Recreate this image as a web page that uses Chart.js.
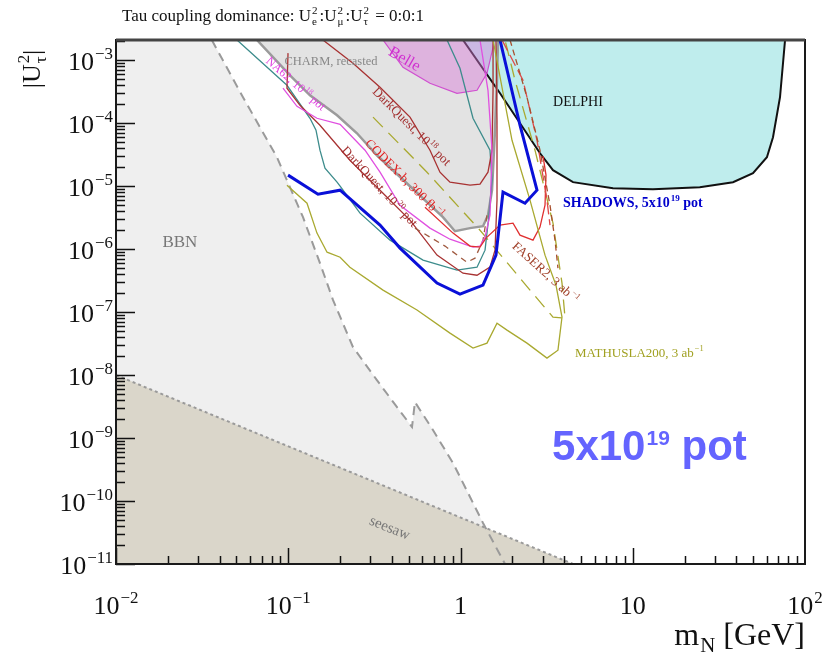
<!DOCTYPE html>
<html>
<head>
<meta charset="utf-8">
<script src="https://cdn.jsdelivr.net/npm/chart.js@4.4.1/dist/chart.umd.min.js"></script>
<style>
  html, body { margin: 0; padding: 0; background: #fff; }
  #wrap { width: 826px; height: 658px; }
</style>
</head>
<body>
<div id="wrap"><canvas id="myChart" width="826" height="658"></canvas></div>
<script>
// axis ranges: m_N in GeV, |U_tau|^2
var xRange = [0.01, 100];
var yRange = [1e-11, 2.1e-3];
var xTicks = [0.01, 0.1, 1, 10, 100];
var xTickLabels = [["10", "\u22122"], ["10", "\u22121"], ["1", ""], ["10", ""], ["10", "2"]];
var yTicks = [1e-3, 1e-4, 1e-5, 1e-6, 1e-7, 1e-8, 1e-9, 1e-10, 1e-11];
var yTickLabels = [["10", "\u22123"], ["10", "\u22124"], ["10", "\u22125"], ["10", "\u22126"], ["10", "\u22127"],
  ["10", "\u22128"], ["10", "\u22129"], ["10", "\u221210"], ["10", "\u221211"]];

// curves, [mass, coupling]
var bbnEdge = [[0.036, 2.1e-3], [0.0546, 2.59e-4], [0.086, 2.89e-5], [0.1218, 3.22e-6], [0.1528, 6.0e-7],
  [0.182, 1.55e-7], [0.2377, 2.78e-8], [0.327, 8.34e-9], [0.428, 3.1e-9], [0.523, 1.5e-9], [0.544, 3.73e-9],
  [0.692, 1.34e-9], [0.905, 4.01e-10], [1.136, 1.16e-10], [1.351, 4.48e-11], [1.813, 1e-11]];
var bbnCorners = [[0.01, 1e-11], [0.01, 2.1e-3]];
var seesaw = [[0.01, 1.0e-8], [4.5, 1e-11]];
var charm = [[0.0658, 2.1e-3], [0.1024, 5.78e-4], [0.1337, 2.78e-4], [0.192, 1.34e-4], [0.2506, 6.93e-5],
  [0.327, 3.1e-5], [0.509, 1.0e-5], [0.791, 3.22e-6], [0.929, 1.93e-6], [1.136, 2.16e-6], [1.351, 2.32e-6],
  [1.444, 3.47e-6], [1.524, 8.65e-6], [1.586, 7.75e-5], [1.629, 4.82e-4], [1.651, 2.1e-3]];
var belle = [[0.355, 2.1e-3], [0.4635, 7.74e-4], [0.665, 4.31e-4], [0.954, 2.99e-4], [1.247, 3.34e-4],
  [1.425, 6.22e-4], [1.545, 1.61e-3], [1.565, 2.1e-3]];
var delphi = [[1.034, 2.1e-3], [1.696, 2.99e-4], [2.894, 3.34e-5], [3.443, 1.8e-5], [4.5, 1.16e-5],
  [7.68, 9.29e-6], [13.1, 8.96e-6], [24.5, 9.64e-6], [38.2, 1.16e-5], [49.9, 1.61e-5], [60.1, 2.89e-5],
  [65.2, 6.0e-5], [71.6, 2.59e-4], [76.6, 2.1e-3]];
var teal = [[0.0504, 2.1e-3], [0.0983, 4.01e-4], [0.1337, 1.2e-4], [0.1449, 7.75e-5], [0.1528, 3.73e-5],
  [0.1634, 1.93e-5], [0.192, 1.16e-5], [0.2, 1.0e-5], [0.261, 3.73e-6], [0.39, 1.39e-6], [0.606, 6.69e-7],
  [0.954, 4.64e-7], [1.247, 5.18e-7], [1.388, 9.64e-7], [1.464, 3.47e-6], [1.524, 1.25e-5], [1.483, 3.73e-5],
  [1.182, 1.2e-4], [0.993, 7.46e-4], [0.835, 2.1e-3]];
var na62 = [[0.0932, 3.6e-4], [0.1124, 1.86e-4], [0.1468, 1.2e-4], [0.2, 9.64e-5], [0.279, 3.73e-5],
  [0.341, 1.67e-5], [0.4455, 4.99e-6], [0.665, 2.16e-6], [0.869, 1.44e-6], [1.182, 1.08e-6], [1.298, 1.12e-6],
  [1.388, 1.55e-6], [1.483, 3.47e-6], [1.524, 3.73e-5], [1.444, 3.34e-4], [1.298, 2.1e-3]];
var darkQuest18 = [[0.159, 2.1e-3], [0.2377, 8.96e-4], [0.341, 3.73e-4], [0.509, 1.25e-4], [0.665, 3.73e-5],
  [0.76, 1.67e-5], [0.869, 1.16e-5], [1.136, 1.04e-5], [1.298, 1.08e-5], [1.444, 1.67e-5], [1.524, 3.73e-5],
  [1.545, 3.34e-4], [1.545, 2.1e-3]];
var darkQuest20 = [[0.0997, 1.3e-3], [0.0983, 3.6e-4], [0.117, 1.93e-4], [0.1528, 9.3e-5], [0.228, 2.59e-5],
  [0.341, 8.65e-6], [0.509, 2.89e-6], [0.7305, 8.04e-7], [1.034, 4.16e-7], [1.247, 3.86e-7], [1.483, 5.18e-7],
  [1.586, 9.64e-7], [1.629, 6.0e-6], [1.629, 1.12e-4], [1.607, 2.1e-3]];
var darkQuest20b = [[0.544, 2.16e-6], [0.813, 1.12e-6], [1.09, 6.22e-7], [1.214, 7.2e-7], [1.351, 1.39e-6],
  [1.425, 3.47e-6]];
var codexB = [[0.622, 4.64e-6], [0.905, 1.8e-6], [1.136, 1.12e-6], [1.298, 1.08e-6], [1.406, 1.5e-6],
  [1.696, 2.41e-6], [2.018, 2.59e-6], [2.215, 1.67e-6], [2.636, 1.39e-6], [2.894, 2.24e-6], [3.095, 4.99e-6],
  [3.136, 1.5e-5], [3.013, 3.0e-5]];
var faserRed = [[1.742, 2.1e-3], [2.306, 4.82e-4], [2.78, 5.37e-5], [3.177, 6.0e-6], [3.308, 2.41e-6]];
var faser2 = [[1.939, 2.1e-3], [2.432, 2.59e-4], [2.894, 3.73e-5], [3.308, 4.99e-6], [3.537, 1.39e-6],
  [3.68, 4.99e-7]];
var mathusla = [[0.0983, 1.04e-5], [0.1285, 5.37e-6], [0.1468, 1.8e-6], [0.168, 8.96e-7], [0.2, 7.46e-7],
  [0.228, 5.18e-7], [0.355, 2.24e-7], [0.559, 1.08e-7], [0.869, 4.64e-8], [1.182, 2.68e-8], [1.425, 3.22e-8],
  [1.629, 6.69e-8], [1.862, 5.18e-8], [2.432, 3.22e-8], [3.177, 1.86e-8], [3.68, 2.49e-8], [3.884, 8.34e-8],
  [3.584, 2.68e-7], [3.095, 8.04e-7], [2.532, 6.0e-6], [1.991, 5.37e-5], [1.545, 2.1e-3]];
var mathuslaB = [[0.3105, 1.25e-4], [0.639, 1.67e-5], [1.298, 2.0e-6], [2.532, 2.24e-7], [3.443, 8.34e-8],
  [4.045, 8.04e-8], [3.884, 2.89e-7], [3.443, 2.59e-6], [2.707, 3.73e-5], [2.072, 4.82e-4], [1.813, 2.1e-3]];
var shadows = [[0.0997, 1.5e-5], [0.1488, 7.46e-6], [0.2, 8.65e-6], [0.341, 2.41e-6], [0.4455, 1.04e-6],
  [0.7305, 2.89e-7], [0.993, 1.93e-7], [1.351, 2.68e-7], [1.607, 8.04e-7], [1.765, 8.04e-6], [2.368, 5.37e-6],
  [2.78, 8.65e-6], [2.215, 9.3e-5], [1.696, 2.1e-3]];

// text placed in the plot, anchored at [mass, coupling]
var notes = [
  { segs: [["BBN"]], x: 0.0235, y: 1.34e-6, size: 17, color: "#777", angle: 0, align: "center" },
  { segs: [["CHARM, recasted"]], x: 0.177, y: 1e-3, size: 12.5, color: "#888", angle: 0, align: "center" },
  { segs: [["NA62, 10", "18"], [" pot"]], x: 0.111, y: 4.31e-4, size: 12, color: "#e040e0", angle: 41, align: "center" },
  { segs: [["Belle"]], x: 0.476, y: 1.08e-3, size: 16, color: "#d030d0", angle: 30, align: "center" },
  { segs: [["DarkQuest, 10", "18"], [" pot"]], x: 0.523, y: 9.0e-5, size: 13, color: "#a33030", angle: 45, align: "center" },
  { segs: [["CODEX-b, 300 fb", "\u22121"]], x: 0.476, y: 1.34e-5, size: 13, color: "#e02020", angle: 45, align: "center" },
  { segs: [["DarkQuest, 10", "20"], [" pot"]], x: 0.341, y: 1.0e-5, size: 13, color: "#a33030", angle: 47, align: "center" },
  { segs: [["DELPHI"]], x: 4.81, y: 2.24e-4, size: 14, color: "#111", angle: 0, align: "center" },
  { segs: [["SHADOWS, 5x10", "19"], [" pot"]], x: 3.94, y: 5.57e-6, size: 14, weight: "bold", color: "#0000cc", angle: 0, align: "left" },
  { segs: [["FASER2, 3 ab", "\u22121"]], x: 3.136, y: 4.31e-7, size: 13, color: "#a0402a", angle: 42, align: "center" },
  { segs: [["MATHUSLA200, 3 ab", "\u22121"]], x: 4.62, y: 2.32e-8, size: 13, color: "#a0a020", angle: 0, align: "left" },
  { segs: [["seesaw"]], x: 0.39, y: 3.86e-11, size: 15, color: "#777", angle: 22, align: "center" },
  { segs: [["5x10", "19"], [" pot"]], x: 3.4, y: 7.75e-10, size: 42, weight: "bold", family: "'Liberation Sans'",
    color: "#6464ff", angle: 0, align: "left", supScale: 0.5, supRaise: 0.36 }
];

function curve(data, color, width, dash) {
  return {
    data: data,
    borderColor: color,
    borderWidth: width,
    borderDash: dash || [],
    fill: false,
    pointRadius: 0,
    pointHoverRadius: 0,
    tension: 0
  };
}

function region(data, fillColor, lineColor, width, fill) {
  return {
    data: data,
    backgroundColor: fillColor,
    borderColor: lineColor || fillColor,
    borderWidth: width || 0,
    fill: fill || "shape",
    pointRadius: 0,
    pointHoverRadius: 0,
    tension: 0
  };
}

// bottom to top
var datasets = [
  region(bbnEdge.concat(bbnCorners), "#efefef"),
  region(charm, "#e3e3e3"),
  region(delphi, "#bfeded", "#111", 2),
  region(belle, "rgba(214,120,214,0.45)", "#d050d0", 1.2),
  Object.assign(region(seesaw, "#dad6ca", "#9a9a9a", 2, "start"), { borderDash: [3, 3] }),
  curve(bbnEdge, "#9a9a9a", 2, [9, 6]),
  curve(charm, "#9b9b9b", 2.5),
  curve(mathuslaB, "#a9a930", 1.3, [14, 8]),
  curve(teal, "#3d8c8c", 1.3),
  curve(darkQuest18, "#a83232", 1.3),
  curve(darkQuest20, "#a83232", 1.3),
  curve(darkQuest20b, "#a05a40", 1.3, [6, 5]),
  curve(na62, "#e050e0", 1.3),
  curve(codexB, "#e03030", 1.3),
  curve(faserRed, "#e04848", 1.3, [12, 5]),
  curve(faser2, "#a8502e", 1.3, [6, 4]),
  curve(mathusla, "#a9a930", 1.3),
  curve(shadows, "#0a10d8", 3)
];
datasets.forEach(function(d, i) {
  d.order = datasets.length - i;
});

function richWidth(ctx, segs, o) {
  var fam = o.family || "'Liberation Serif'";
  var wt = o.weight || "normal";
  var small = o.size * (o.supScale || 0.65);
  var w = 0;
  segs.forEach(function(s) {
    ctx.font = wt + " " + o.size + "px " + fam;
    w += ctx.measureText(s[0]).width;
    if (s[1] || s[2]) {
      ctx.font = wt + " " + small + "px " + fam;
      w += Math.max(s[1] ? ctx.measureText(s[1]).width : 0, s[2] ? ctx.measureText(s[2]).width : 0) + 1 + (o.gap || 0);
    }
  });
  return w;
}

function drawRich(ctx, segs, x, y, o) {
  var fam = o.family || "'Liberation Serif'";
  var wt = o.weight || "normal";
  var small = o.size * (o.supScale || 0.65);
  var total = richWidth(ctx, segs, o);
  var cx = x;
  if (o.align === "center") cx = x - total / 2;
  if (o.align === "right") cx = x - total;
  ctx.fillStyle = o.color || "#000";
  ctx.textAlign = "left";
  ctx.textBaseline = "alphabetic";
  segs.forEach(function(s) {
    ctx.font = wt + " " + o.size + "px " + fam;
    ctx.fillText(s[0], cx, y);
    cx += ctx.measureText(s[0]).width;
    if (s[1] || s[2]) {
      ctx.font = wt + " " + small + "px " + fam;
      var w1 = 0, w2 = 0;
      if (s[1]) {
        ctx.fillText(s[1], cx + 1, y - o.size * (o.supRaise || 0.42));
        w1 = ctx.measureText(s[1]).width;
      }
      if (s[2]) {
        ctx.fillText(s[2], cx + 1, y + o.size * 0.22);
        w2 = ctx.measureText(s[2]).width;
      }
      cx += Math.max(w1, w2) + 1 + (o.gap || 0);
    }
  });
}

var framePlugin = {
  id: "frame",
  afterDraw: function(chart) {
    var ctx = chart.ctx;
    var a = chart.chartArea;
    var xs = chart.scales.x;
    var ys = chart.scales.y;
    ctx.save();

    // notes inside the plot
    notes.forEach(function(n) {
      var px = xs.getPixelForValue(n.x);
      var py = ys.getPixelForValue(n.y);
      ctx.save();
      ctx.translate(px, py);
      ctx.rotate(n.angle * Math.PI / 180);
      drawRich(ctx, n.segs, 0, n.size * 0.35, n);
      ctx.restore();
    });

    // ticks inside the frame
    ctx.strokeStyle = "#111";
    ctx.lineWidth = 1.5;
    ctx.beginPath();
    for (var e = -2; e < 2; e++) {
      for (var m = 1; m < 10; m++) {
        var px = Math.round(xs.getPixelForValue(m * Math.pow(10, e))) + 0.5;
        var len = m === 1 ? 16 : 8;
        ctx.moveTo(px, a.bottom);
        ctx.lineTo(px, a.bottom - len);
      }
    }
    for (var e2 = -11; e2 <= -3; e2++) {
      for (var m2 = 1; m2 < 10; m2++) {
        var v = m2 * Math.pow(10, e2);
        if (v > yRange[1]) continue;
        var py = Math.round(ys.getPixelForValue(v)) + 0.5;
        var len2 = m2 === 1 ? 19 : 9;
        ctx.moveTo(a.left, py);
        ctx.lineTo(a.left + len2, py);
      }
    }
    ctx.stroke();

    // frame
    ctx.lineWidth = 2;
    ctx.strokeStyle = "#1a1a1a";
    ctx.strokeRect(a.left, a.top, a.right - a.left, a.bottom - a.top);
    ctx.lineWidth = 3;
    ctx.strokeStyle = "#444";
    ctx.beginPath();
    ctx.moveTo(a.left, a.top);
    ctx.lineTo(a.right, a.top);
    ctx.stroke();

    // tick labels
    xTicks.forEach(function(v, i) {
      drawRich(ctx, [xTickLabels[i]], xs.getPixelForValue(v), 614, { size: 26, align: "center", color: "#111" });
    });
    yTicks.forEach(function(v, i) {
      drawRich(ctx, [yTickLabels[i]], a.left - 3, ys.getPixelForValue(v) + 10, { size: 26, align: "right", color: "#111" });
    });

    // titles
    drawRich(ctx, [["Tau coupling dominance: U", "2", "e"], [":U", "2", "\u03bc"], [":U", "2", "\u03c4"], [" = 0:0:1"]],
      122, 21, { size: 17, color: "#111", gap: 2 });
    drawRich(ctx, [["m", "", "N"], [" [GeV]"]], a.right, 645, { size: 32, align: "right", color: "#111" });
    ctx.save();
    ctx.translate(31, 69);
    ctx.rotate(-Math.PI / 2);
    drawRich(ctx, [["|U", "2", "\u03c4"], ["|"]], 0, 9, { size: 26, align: "center", color: "#111" });
    ctx.restore();

    ctx.restore();
  }
};

var ctx = document.getElementById("myChart").getContext("2d");
var myChart = new Chart(ctx, {
  type: "line",
  data: { datasets: datasets },
  options: {
    responsive: false,
    animation: false,
    devicePixelRatio: 1,
    events: [],
    layout: { padding: { left: 116, right: 21, top: 40, bottom: 94 } },
    scales: {
      x: { type: "logarithmic", min: xRange[0], max: xRange[1], display: false },
      y: { type: "logarithmic", min: yRange[0], max: yRange[1], display: false }
    },
    plugins: {
      legend: { display: false },
      tooltip: { enabled: false }
    }
  },
  plugins: [framePlugin]
});
</script>
</body>
</html>
